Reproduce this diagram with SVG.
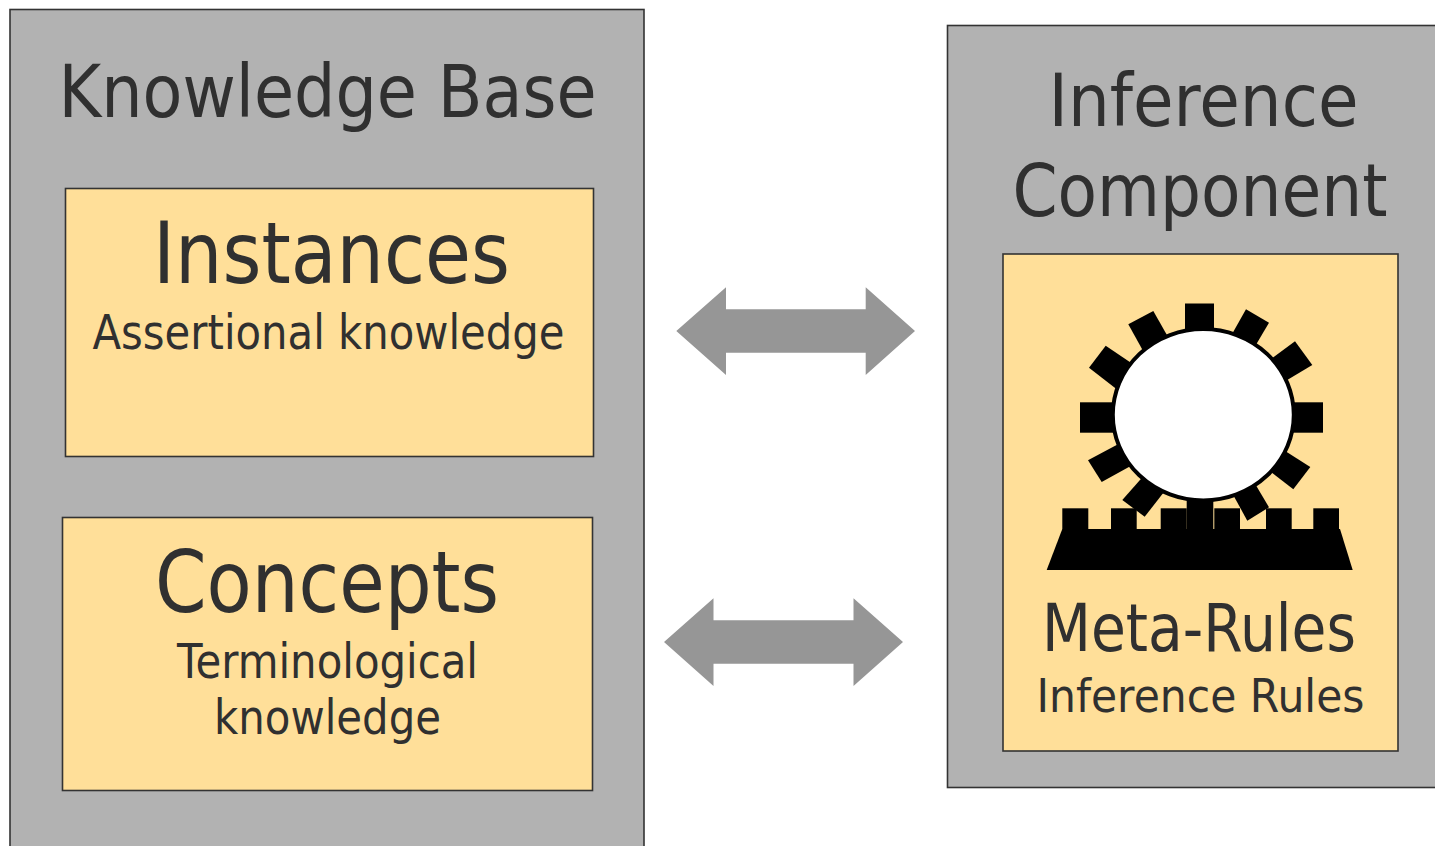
<svg xmlns="http://www.w3.org/2000/svg" width="1435" height="846" viewBox="0 0 1435 846">
<style>
.panel{fill:#b2b2b2;stroke:#333;stroke-width:1.6}
.box{fill:#ffdf99;stroke:#333;stroke-width:1.6}
.arrow{fill:#969696}
.gear{fill:#000}
text{font-family:"DejaVu Sans","Noto Sans",sans-serif;fill:#303030;text-anchor:middle}
</style>
<rect width="1435" height="846" fill="#fff"/>
<g id="knowledge-base">
<rect class="panel" x="10" y="9.500" width="634" height="850"/>
<text x="327.500" y="117" font-size="73" textLength="538" lengthAdjust="spacingAndGlyphs">Knowledge Base</text>
</g>
<g id="instances">
<rect class="box" x="65.500" y="188.500" width="528" height="268"/>
<text x="331.500" y="283" font-size="85" textLength="357" lengthAdjust="spacingAndGlyphs">Instances</text>
<text x="328.500" y="349" font-size="48" textLength="472" lengthAdjust="spacingAndGlyphs">Assertional knowledge</text>
</g>
<g id="concepts">
<rect class="box" x="62.500" y="517.500" width="530" height="273"/>
<text x="327" y="612" font-size="86" textLength="344" lengthAdjust="spacingAndGlyphs">Concepts</text>
<text x="327.500" y="677.500" font-size="48" textLength="301" lengthAdjust="spacingAndGlyphs">Terminological</text>
<text x="327.500" y="734" font-size="48" textLength="227" lengthAdjust="spacingAndGlyphs">knowledge</text>
</g>
<g id="inference-component">
<rect class="panel" x="947.500" y="25.500" width="500" height="762"/>
<text x="1203.500" y="126" font-size="73" textLength="310" lengthAdjust="spacingAndGlyphs">Inference</text>
<text x="1200" y="216" font-size="73" textLength="375" lengthAdjust="spacingAndGlyphs">Component</text>
</g>
<g id="meta-rules">
<rect class="box" x="1003" y="254" width="395" height="497"/>
<g class="gear">
<rect x="1185" y="303.500" width="29" height="30"/>
<polygon points="1246,309.300 1269,322.700 1251.700,352 1229,339.400"/>
<polygon points="1295,341.300 1312.300,365 1279.700,384.400 1266,362.600"/>
<rect x="1285" y="402.300" width="38" height="30.400"/>
<polygon points="1276.500,445.600 1310.300,467 1293.300,489.300 1264.800,467.200"/>
<polygon points="1251.600,478.100 1269,507.300 1247.300,520.700 1230.200,489.500"/>
<polygon points="1146.600,472.500 1167.900,487.100 1144.700,516.700 1122.300,500"/>
<polygon points="1124.100,441 1137,462.500 1101.700,482 1088,460.300"/>
<rect x="1080" y="402.300" width="38" height="30.400"/>
<polygon points="1105.700,345.700 1137.600,367.300 1122.200,393.400 1089,367.700"/>
<polygon points="1153.300,311 1170.900,342 1145.900,356 1128.300,324.300"/>
<rect x="1186.700" y="495" width="26.600" height="36"/>
<polygon points="1062.300,529 1340,529 1352.700,570 1046.700,570"/>
<rect x="1062.300" y="508.300" width="26" height="21"/>
<rect x="1111" y="508.300" width="25.700" height="21"/>
<rect x="1160.700" y="508.300" width="26" height="21"/>
<rect x="1214.300" y="508.300" width="25.700" height="21"/>
<rect x="1266" y="508.300" width="25.700" height="21"/>
<rect x="1313.300" y="508.300" width="25.700" height="21"/>
<ellipse cx="1203.300" cy="414.700" rx="90.500" ry="85.700" fill="#fff" stroke="#000" stroke-width="4"/>
</g>
<text x="1199" y="651" font-size="65" textLength="314" lengthAdjust="spacingAndGlyphs">Meta-Rules</text>
<text x="1200.500" y="712" font-size="46" textLength="328" lengthAdjust="spacingAndGlyphs">Inference Rules</text>
</g>
<g id="connectors">
<polygon class="arrow" points="676.300,331 726,287.300 726,309.300 865.700,309.300 865.700,287.300 915,331 865.700,375 865.700,352.700 726,352.700 726,375"/>
<polygon class="arrow" points="664,642 713.500,598.300 713.500,620.300 853.500,620.300 853.500,598.300 903,642 853.500,686 853.500,663.700 713.500,663.700 713.500,686"/>
</g>
</svg>
